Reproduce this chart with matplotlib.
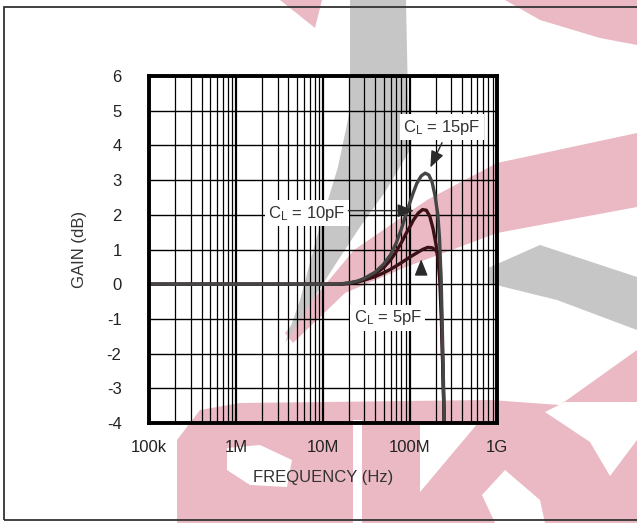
import matplotlib
matplotlib.use('Agg')
import matplotlib.pyplot as plt
from matplotlib.patches import Polygon, Rectangle
from matplotlib.ticker import FixedLocator, LogLocator, NullFormatter

plt.rcParams['font.family'] = ['Liberation Sans', 'DejaVu Sans']
plt.rcParams['axes.unicode_minus'] = False

# data
freq_5p = [1e5, 1e7, 1.5e7, 2e7, 2.5e7, 3e7, 4e7, 5e7, 6e7, 7e7, 8e7, 1e8, 1.2e8, 1.4e8,
           1.6e8, 1.8e8, 2e8, 2.1e8, 2.2e8, 2.25e8, 2.3e8, 2.4e8, 2.5e8]
gain_5p = [0, 0, 0, 0.02, 0.06, 0.12, 0.22, 0.33, 0.43, 0.53, 0.62, 0.78, 0.9, 1.0,
           1.06, 1.05, 0.97, 0.9, 0.8, 0.4, -0.6, -2.4, -4.2]

freq_10p = [1e5, 1e7, 1.5e7, 2e7, 2.5e7, 3e7, 4e7, 5e7, 6e7, 7e7, 8e7, 9e7, 1e8, 1.1e8,
            1.25e8, 1.4e8, 1.55e8, 1.7e8, 1.85e8, 2e8, 2.1e8, 2.2e8, 2.3e8, 2.4e8, 2.5e8]
gain_10p = [0, 0, 0, 0.03, 0.08, 0.15, 0.3, 0.48, 0.7, 0.95, 1.2, 1.45, 1.65, 1.85,
            2.05, 2.15, 2.13, 1.95, 1.6, 1.15, 0.75, 0.2, -0.9, -2.5, -4.2]

freq_15p = [1e5, 1e7, 1.5e7, 2e7, 2.5e7, 3e7, 4e7, 5e7, 6e7, 7e7, 8e7, 9e7, 1e8, 1.1e8,
            1.2e8, 1.35e8, 1.5e8, 1.65e8, 1.8e8, 1.95e8, 2.1e8, 2.2e8, 2.3e8, 2.4e8, 2.5e8]
gain_15p = [0, 0, 0, 0.04, 0.09, 0.17, 0.35, 0.58, 0.85, 1.2, 1.6, 2.0, 2.35, 2.65,
            2.9, 3.12, 3.2, 3.15, 2.95, 2.55, 2.0, 1.3, 0.0, -2.0, -4.2]

x_ticks = [1e5, 1e6, 1e7, 1e8, 1e9]
x_labels = ['100k', '1M', '10M', '100M', '1G']
y_ticks = [-4, -3, -2, -1, 0, 1, 2, 3, 4, 5, 6]

W, H = 637, 523
fig = plt.figure(figsize=(W / 100, H / 100), dpi=100)

# background watermark, pixel coords from top-left
pink = '#eab9c4'
grey = '#c6c6c6'
def px(pts):
    return [(x / W, 1 - y / H) for x, y in pts]

shapes = [
    (pink, [(280, 0), (322, 0), (315, 28)]),
    (pink, [(505, 0), (637, 0), (637, 45), (600, 38), (540, 20)]),
    (pink, [(285, 333), (354, 250), (427, 200), (497, 163), (637, 133),
            (637, 207), (497, 233), (406, 267), (345, 293), (293, 343)]),
    (grey, [(350, 0), (406, 0), (408, 100), (410, 150), (385, 192), (360, 227),
            (335, 265), (300, 320), (285, 343), (300, 300), (318, 233), (338, 167), (350, 110)]),
    (grey, [(488, 268), (540, 245), (637, 277), (637, 330), (557, 300), (488, 283)]),
    (pink, [(177, 523), (177, 440), (200, 410), (240, 403), (490, 400), (560, 405),
            (637, 350), (637, 523)]),
    ('white', [(227, 448), (260, 445), (292, 460), (287, 487), (250, 485), (227, 470)]),
    ('white', [(353, 420), (362, 420), (362, 523), (353, 523)]),
    ('white', [(420, 423), (478, 423), (420, 492)]),
    ('white', [(482, 495), (505, 470), (540, 500), (545, 523), (495, 523)]),
    ('white', [(545, 412), (565, 402), (637, 402), (637, 440), (610, 476), (590, 442)]),
]
for col, pts in shapes:
    fig.patches.append(Polygon(px(pts), closed=True, transform=fig.transFigure,
                               facecolor=col, edgecolor='none', zorder=-2))
fig.patches.append(Rectangle((4 / W, 1 - 520 / H), 1, (520 - 7) / H, transform=fig.transFigure,
                             facecolor='none', edgecolor='#333333', lw=1.3, zorder=-1))

ax = fig.add_axes([149.3 / W, 1 - 423 / H, 347.4 / W, 347 / H])
ax.set_zorder(1)
ax.patch.set_alpha(0)

curve_col = '#3a1216'
ax.plot(freq_5p, gain_5p, color=curve_col, lw=2.4, zorder=3)
ax.plot(freq_10p, gain_10p, color=curve_col, lw=2.4, zorder=3)
ax.plot(freq_15p, gain_15p, color='#454545', lw=2.4, zorder=3)

ax.set_xscale('log')
ax.set_xlim(1e5, 1e9)
ax.set_ylim(-4, 6)
ax.xaxis.set_major_locator(FixedLocator(x_ticks))
ax.set_xticklabels(x_labels)
ax.xaxis.set_minor_locator(LogLocator(base=10, subs=range(2, 10)))
ax.xaxis.set_minor_formatter(NullFormatter())
ax.set_yticks(y_ticks)
ax.grid(True, which='major', axis='x', color='black', lw=1.6, zorder=1)
ax.grid(True, which='minor', axis='x', color='black', lw=0.9, zorder=1)
ax.grid(True, which='major', axis='y', color='black', lw=1.0, zorder=1)
ax.tick_params(which='both', length=0, labelsize=12, colors='#222222')
ax.tick_params(axis='x', pad=12)
ax.tick_params(axis='y', pad=20)
for s in ax.spines.values():
    s.set_linewidth(2.8)
    s.set_zorder(4)

ax.set_xlabel('FREQUENCY (Hz)', fontsize=12, color='#333333', labelpad=11)
ax.set_ylabel('GAIN (dB)', fontsize=12, color='#333333', labelpad=14)

box = dict(facecolor='white', edgecolor='none', pad=2.5)
ax.text(2.35e8, 4.52, '$\\mathregular{C_L}$ = 15pF', fontsize=12, color='#333333',
        ha='center', va='center', bbox=box, zorder=5)
ax.annotate('', xy=(1.67e8, 3.29), xytext=(2.42e8, 4.15),
            arrowprops=dict(arrowstyle='-|>,head_length=1.0,head_width=0.4', color='#2a2a2a', lw=1.0),
            zorder=5)
ax.text(6.56e6, 2.05, '$\\mathregular{C_L}$ = 10pF', fontsize=12, color='#333333',
        ha='center', va='center', bbox=box, zorder=5)
ax.annotate('', xy=(1.2e8, 2.12), xytext=(1.82e7, 2.12),
            arrowprops=dict(arrowstyle='-|>,head_length=1.0,head_width=0.4', color='#2a2a2a', lw=1.0),
            zorder=5)
ax.text(5.6e7, -0.97, '$\\mathregular{C_L}$ = 5pF', fontsize=12, color='#333333',
        ha='center', va='center', bbox=box, zorder=5)
ax.annotate('', xy=(1.35e8, 0.8), xytext=(1.35e8, 0.3),
            arrowprops=dict(arrowstyle='-|>,head_length=1.0,head_width=0.4', color='#2a2a2a', lw=1.0),
            zorder=5)

fig.savefig('out.png', dpi=100)
